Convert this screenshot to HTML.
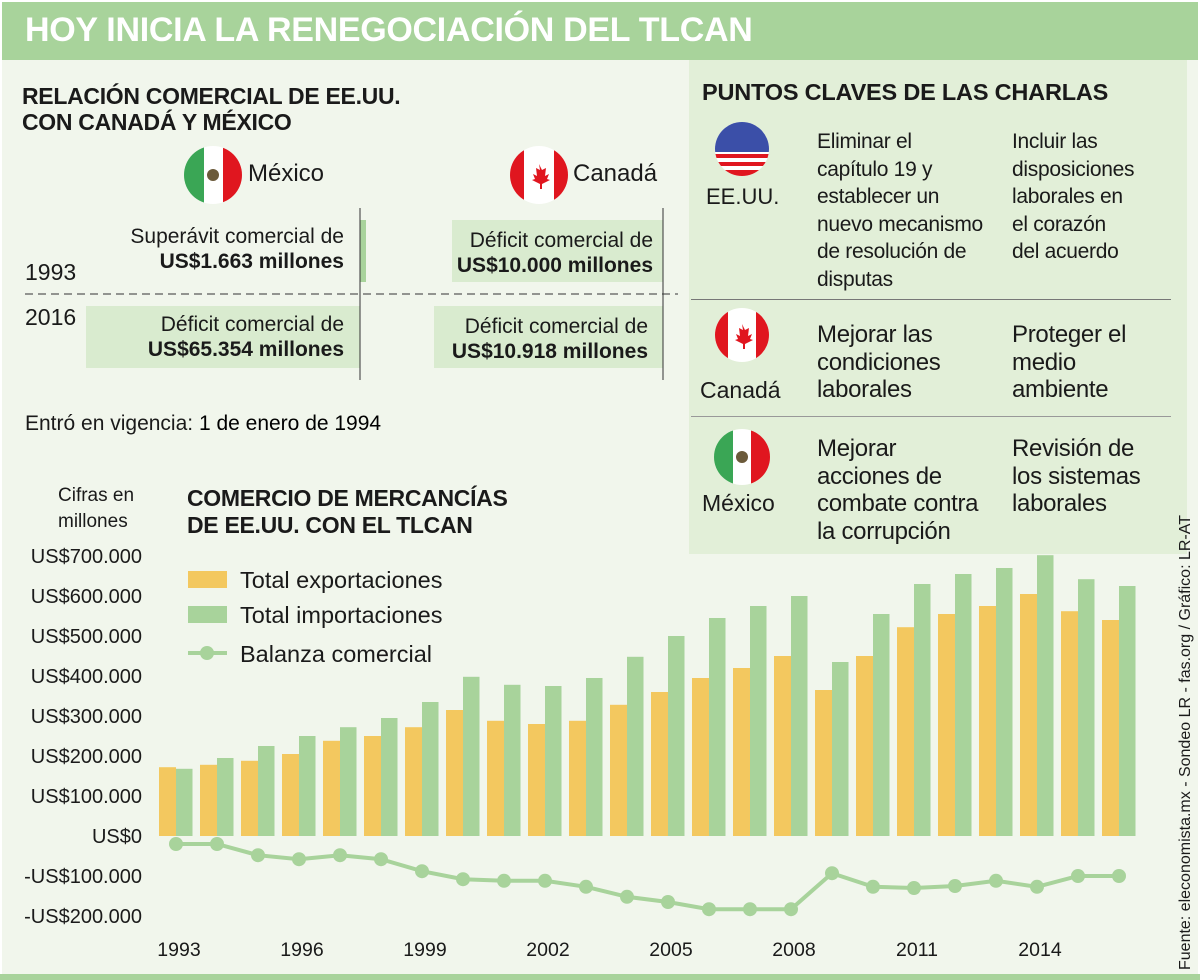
<!DOCTYPE html>
<html><head><meta charset="utf-8"><style>
*{margin:0;padding:0;box-sizing:border-box}
body{width:1200px;height:980px;background:#fff;position:relative;overflow:hidden;font-family:"Liberation Sans",sans-serif;color:#1a1a1a}
.abs{position:absolute;white-space:nowrap}
.bg{position:absolute;left:2px;top:2px;width:1196px;height:976px;background:#f1f6ec}
.t{position:absolute;white-space:nowrap;line-height:1}
.pl{line-height:27.5px;letter-spacing:-0.3px}
</style></head><body>
<div class="bg"></div>
<div class="abs" style="left:2px;top:2px;width:1196px;height:58px;background:#a8d39b"></div>
<div class="t" style="left:25px;top:13px;font-size:34px;font-weight:bold;color:#fff;letter-spacing:-0.3px">HOY INICIA LA RENEGOCIACIÓN DEL TLCAN</div>

<div class="t" style="left:22px;top:83px;font-size:23px;font-weight:bold;line-height:26px;letter-spacing:-0.3px">RELACIÓN COMERCIAL DE EE.UU.<br>CON CANADÁ Y MÉXICO</div>

<svg class="abs" style="left:0;top:140px" width="700" height="260">
 <g>
  <clipPath id="cm1"><circle cx="213" cy="35" r="29"/></clipPath>
  <g clip-path="url(#cm1)"><rect x="184" y="6" width="20" height="58" fill="#3aa655"/><rect x="204" y="6" width="19" height="58" fill="#fff"/><rect x="223" y="6" width="20" height="58" fill="#e0161f"/><circle cx="213" cy="35" r="6" fill="#6b5a3a"/></g>
 </g>
 <g>
  <clipPath id="cc1"><circle cx="539" cy="35" r="29"/></clipPath>
  <g clip-path="url(#cc1)"><rect x="510" y="6" width="58" height="58" fill="#fff"/><rect x="510" y="6" width="14" height="58" fill="#e0161f"/><rect x="554" y="6" width="14" height="58" fill="#e0161f"/><path d="M539 24 l3 6 4-2 -1 8 4-2 -2 5 3 1 -8 4 0 5 -2 0 0-5 -8-4 3-1 -2-5 4 2 -1-8 4 2z" fill="#e0161f"/></g>
 </g>
 <rect x="360" y="80" width="6" height="62" fill="#a8d39b"/>
 <rect x="452" y="80" width="211" height="62" fill="#d9ebcf"/>
 <rect x="86" y="166" width="274" height="62" fill="#d9ebcf"/>
 <rect x="434" y="166" width="229" height="62" fill="#d9ebcf"/>
 <line x1="360" y1="68" x2="360" y2="240" stroke="#333" stroke-width="1"/>
 <line x1="663" y1="68" x2="663" y2="240" stroke="#333" stroke-width="1"/>
 <line x1="25" y1="154" x2="678" y2="154" stroke="#333" stroke-width="1" stroke-dasharray="8,5"/>
</svg>
<div class="t" style="left:248px;top:162px;font-size:24px">México</div>
<div class="t" style="left:573px;top:162px;font-size:24px">Canadá</div>
<div class="t" style="left:25px;top:261px;font-size:23px">1993</div>
<div class="t" style="left:25px;top:306px;font-size:23px">2016</div>
<div class="t" style="right:856px;top:224px;font-size:21px;line-height:25px;text-align:right">Superávit comercial de<br><b>US$1.663 millones</b></div>
<div class="t" style="right:547px;top:228px;font-size:21px;line-height:25px;text-align:right">Déficit comercial de<br><b>US$10.000 millones</b></div>
<div class="t" style="right:856px;top:312px;font-size:21px;line-height:25px;text-align:right">Déficit comercial de<br><b>US$65.354 millones</b></div>
<div class="t" style="right:552px;top:314px;font-size:21px;line-height:25px;text-align:right">Déficit comercial de<br><b>US$10.918 millones</b></div>
<div class="t" style="left:25px;top:413px;font-size:21px">Entró en vigencia: <span style="color:#000">1 de enero de 1994</span></div>

<div class="abs" style="left:689px;top:60px;width:498px;height:494px;background:#e2efd8"></div>
<div class="t" style="left:702px;top:81px;font-size:23.5px;font-weight:bold;letter-spacing:-0.2px">PUNTOS CLAVES DE LAS CHARLAS</div>
<svg class="abs" style="left:689px;top:110px" width="110" height="380">
 <g>
  <clipPath id="cu"><circle cx="53" cy="39" r="27"/></clipPath>
  <g clip-path="url(#cu)"><rect x="26" y="12" width="54" height="54" fill="#fff"/><rect x="26" y="12" width="54" height="30" fill="#3b4fa8"/><rect x="26" y="44" width="54" height="4" fill="#e0161f"/><rect x="26" y="52" width="54" height="4" fill="#e0161f"/><rect x="26" y="60" width="54" height="6" fill="#e0161f"/></g>
 </g>
 <g>
  <clipPath id="cc2"><circle cx="53" cy="225" r="27"/></clipPath>
  <g clip-path="url(#cc2)"><rect x="26" y="198" width="54" height="54" fill="#fff"/><rect x="26" y="198" width="13" height="54" fill="#e0161f"/><rect x="67" y="198" width="13" height="54" fill="#e0161f"/><path d="M53 214 l3 6 4-2 -1 8 4-2 -2 5 3 1 -8 4 0 5 -2 0 0-5 -8-4 3-1 -2-5 4 2 -1-8 4 2z" fill="#e0161f"/></g>
 </g>
 <g>
  <clipPath id="cm2"><circle cx="53" cy="347" r="28"/></clipPath>
  <g clip-path="url(#cm2)"><rect x="25" y="319" width="19" height="56" fill="#3aa655"/><rect x="44" y="319" width="18" height="56" fill="#fff"/><rect x="62" y="319" width="19" height="56" fill="#e0161f"/><circle cx="53" cy="347" r="6" fill="#6b5a3a"/></g>
 </g>
</svg>
<div class="abs" style="left:691px;top:299px;width:480px;height:1px;background:#777"></div>
<div class="abs" style="left:691px;top:416px;width:480px;height:1px;background:#999"></div>
<div class="t" style="left:706px;top:186px;font-size:22px">EE.UU.</div>
<div class="t" style="left:700px;top:379px;font-size:23px">Canadá</div>
<div class="t" style="left:702px;top:492px;font-size:23px">México</div>
<div class="t pl" style="left:817px;top:128px;font-size:21px">Eliminar el<br>capítulo 19 y<br>establecer un<br>nuevo mecanismo<br>de resolución de<br>disputas</div>
<div class="t pl" style="left:1012px;top:128px;font-size:21px">Incluir las<br>disposiciones<br>laborales en<br>el corazón<br>del acuerdo</div>
<div class="t pl" style="left:817px;top:321px;font-size:24px">Mejorar las<br>condiciones<br>laborales</div>
<div class="t pl" style="left:1012px;top:321px;font-size:24px">Proteger el<br>medio<br>ambiente</div>
<div class="t pl" style="left:817px;top:435px;font-size:24px">Mejorar<br>acciones de<br>combate contra<br>la corrupción</div>
<div class="t pl" style="left:1012px;top:435px;font-size:24px">Revisión de<br>los sistemas<br>laborales</div>

<div class="t" style="left:58px;top:483px;font-size:19px;line-height:26px">Cifras en<br>millones</div>
<div class="t" style="left:187px;top:485px;font-size:23px;font-weight:bold;line-height:27px;letter-spacing:-0.3px">COMERCIO DE MERCANCÍAS<br>DE EE.UU. CON EL TLCAN</div>
<div class="t" style="left:1178px;top:970px;font-size:16px;transform:rotate(-90deg);transform-origin:0 0">Fuente: eleconomista.mx  - Sondeo LR - fas.org / Gráfico: LR-AT</div>
<div class="abs" style="left:0;top:974px;width:1200px;height:6px;background:#a8d39b"></div>

<svg id="chart" class="abs" style="left:0;top:0" width="1200" height="980"></svg>
<script>
const years=[1993,1994,1995,1996,1997,1998,1999,2000,2001,2002,2003,2004,2005,2006,2007,2008,2009,2010,2011,2012,2013,2014,2015,2016];
const exportsV=[172,178,188,205,238,250,272,315,288,280,288,328,360,395,420,450,365,450,522,555,575,605,562,540];
const importsV=[168,195,225,250,272,295,335,398,378,375,395,448,500,545,575,600,435,555,630,655,670,702,642,625];
const balanceV=[-20,-20,-48,-58,-48,-58,-88,-108,-112,-112,-127,-152,-165,-183,-183,-183,-93,-127,-130,-125,-112,-127,-100,-100];
const yTicks=[700,600,500,400,300,200,100,0,-100,-200];
const yTickLabels=["US$700.000","US$600.000","US$500.000","US$400.000","US$300.000","US$200.000","US$100.000","US$0","-US$100.000","-US$200.000"];
const xLabelYears=[1993,1996,1999,2002,2005,2008,2011,2014];
const NS="http://www.w3.org/2000/svg";
const svg=document.getElementById('chart');
function y(v){return 836-v*0.4;}
function xg(i){return 159+i*41;}
function mk(t,a){const e=document.createElementNS(NS,t);for(const k in a)e.setAttribute(k,a[k]);svg.appendChild(e);return e;}
yTicks.forEach((v,i)=>{const t=mk('text',{x:142,y:y(v)+7,'text-anchor':'end','font-size':'20','font-family':'Liberation Sans, sans-serif',fill:'#1a1a1a'});t.textContent=yTickLabels[i];

});
years.forEach((yr,i)=>{
 const b1=mk('rect',{x:xg(i),y:y(exportsV[i]),width:17,height:y(0)-y(exportsV[i]),fill:'#f3c85f'});
 
 
 const b2=mk('rect',{x:xg(i)+17,y:y(importsV[i]),width:16.5,height:y(0)-y(importsV[i]),fill:'#a8d39b'});
 
 
});
const pts=balanceV.map((v,i)=>(xg(i)+17)+','+y(v)).join(' ');
const pl=mk('polyline',{points:pts,fill:'none',stroke:'#a8d39b','stroke-width':4});


balanceV.forEach((v,i)=>{const c=mk('circle',{cx:xg(i)+17,cy:y(v),r:7,fill:'#a8d39b'});

});
xLabelYears.forEach(yr=>{const i=years.indexOf(yr);const t=mk('text',{x:xg(i)+20,y:956,'text-anchor':'middle','font-size':'19.5','font-family':'Liberation Sans, sans-serif',fill:'#1a1a1a'});t.textContent=yr;

});
const l1=mk('rect',{x:188,y:571,width:39,height:17,fill:'#f3c85f'});


const l2=mk('rect',{x:188,y:606,width:39,height:17,fill:'#a8d39b'});


const l3=mk('line',{x1:188,y1:653,x2:227,y2:653,stroke:'#a8d39b','stroke-width':4});


const l4=mk('circle',{cx:207,cy:653,r:7,fill:'#a8d39b'});


[['Total exportaciones',588],['Total importaciones',623],['Balanza comercial',662]].forEach(([s,yy])=>{const t=mk('text',{x:240,y:yy,'font-size':'23.5','font-family':'Liberation Sans, sans-serif',fill:'#1a1a1a'});t.textContent=s;

});
</script>
</body></html>
